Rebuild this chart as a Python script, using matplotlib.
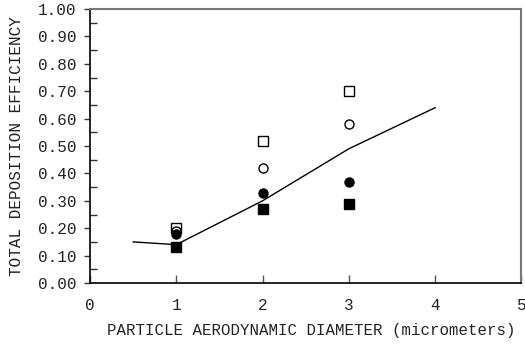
import matplotlib
matplotlib.use("Agg")
import matplotlib.pyplot as plt
from matplotlib.ticker import MultipleLocator

plt.rcParams['font.family'] = ['Liberation Mono', 'DejaVu Sans Mono']

# Model curve
line_x = [0.5, 1.0, 2.0, 3.0, 4.0]
line_y = [0.15, 0.14, 0.30, 0.49, 0.64]

# Measured data
pts_x = [1, 2, 3]
open_square = [0.20, 0.52, 0.70]
open_circle = [0.19, 0.42, 0.58]
filled_circle = [0.18, 0.33, 0.37]
filled_square = [0.13, 0.27, 0.29]

fig = plt.figure(figsize=(5.25, 3.48), dpi=100)
ax = fig.add_axes([0.1714, 0.1868, 0.8219, 0.7872])

ax.plot(line_x, line_y, color='black', lw=1.0)
ms = 6.5
ax.plot(pts_x, open_square, 's', mfc='white', mec='black', ms=ms, mew=1.0, ls='none')
ax.plot(pts_x, open_circle, 'o', mfc='white', mec='black', ms=ms, mew=1.0, ls='none')
ax.plot(pts_x, filled_circle, 'o', mfc='black', mec='black', ms=ms, ls='none')
ax.plot(pts_x, filled_square, 's', mfc='black', mec='black', ms=ms, ls='none')

ax.set_xlim(0, 5)
ax.set_ylim(0, 1.0)
ax.xaxis.set_major_locator(MultipleLocator(1))
ax.yaxis.set_major_locator(MultipleLocator(0.1))
ax.yaxis.set_minor_locator(MultipleLocator(0.05))
ax.yaxis.set_major_formatter(plt.FuncFormatter(lambda v, p: f"{v:.2f}"))

ax.tick_params(axis='y', which='major', direction='out', length=4, width=1, labelsize=11.5, pad=6, colors='#333333', labelcolor='#222222')
ax.tick_params(axis='y', which='minor', direction='in', length=5, width=1, colors='#333333')
ax.tick_params(axis='x', which='major', direction='in', length=6, width=1, labelsize=11.5, pad=11, colors='#555555', labelcolor='#222222')

for s in ['left', 'bottom']:
    ax.spines[s].set_color('black')
    ax.spines[s].set_linewidth(1.2)
for s in ['top', 'right']:
    ax.spines[s].set_color('#777777')
    ax.spines[s].set_linewidth(1.5)

ax.set_xlabel('PARTICLE AERODYNAMIC DIAMETER (micrometers)', fontsize=11.3, color='#222222')
ax.xaxis.set_label_coords(0.513, -0.146)
ax.set_ylabel('TOTAL DEPOSITION EFFICIENCY', fontsize=11.5, color='#222222', labelpad=10)

fig.savefig('out.png', dpi=100)
